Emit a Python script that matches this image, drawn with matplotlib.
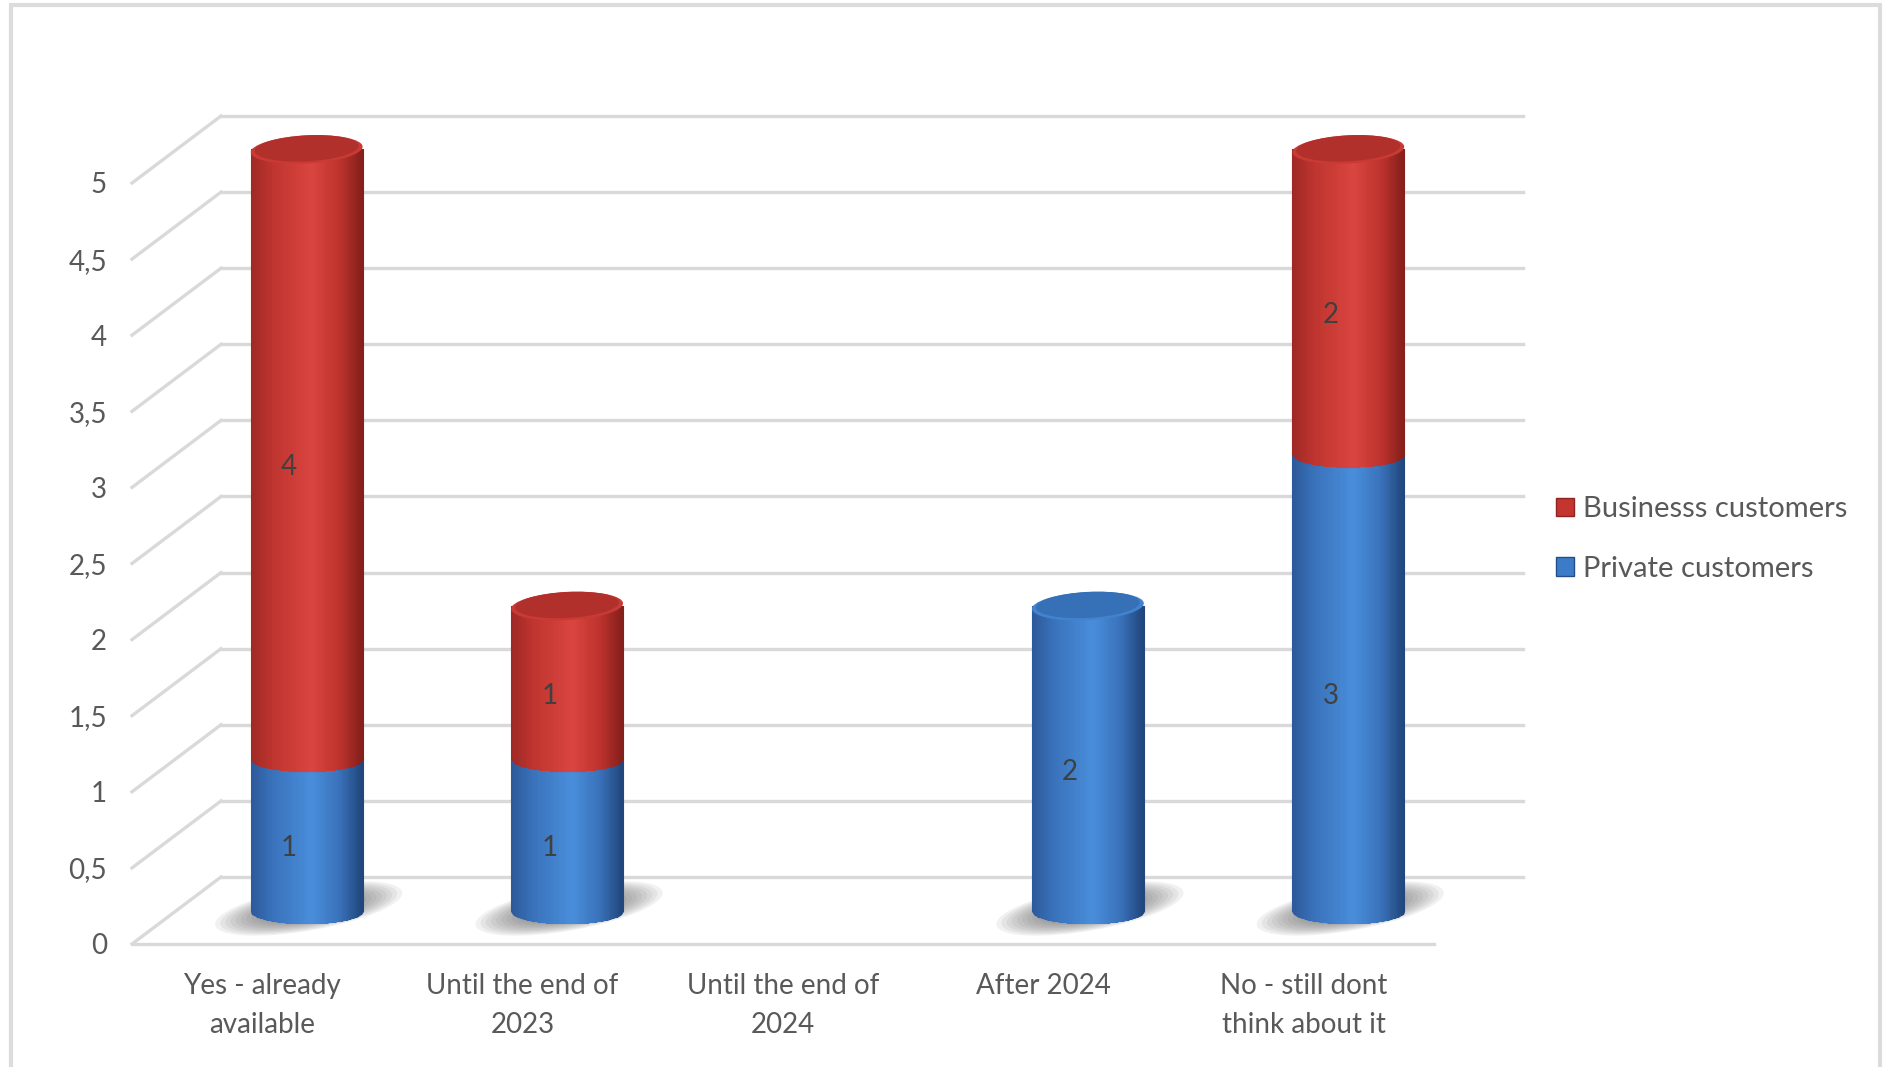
import numpy as np
import matplotlib
matplotlib.use('Agg')
import matplotlib.pyplot as plt
from matplotlib.patches import Ellipse, Patch, Rectangle
from matplotlib.collections import PolyCollection
from matplotlib.colors import LinearSegmentedColormap
from matplotlib.transforms import Affine2D, ScaledTranslation

categories = ['Yes - already\navailable', 'Until the end of\n2023', 'Until the end of\n2024',
              'After 2024', 'No - still dont\nthink about it']
private = [1, 1, 0, 2, 3]
business = [4, 1, 0, 0, 2]
series_names = ['Businesss customers', 'Private customers']
yticks = np.arange(0, 5.01, 0.5)
ytick_labels = [f'{v:g}'.replace('.', ',') for v in yticks]

plt.rcParams['font.family'] = ['Lato', 'DejaVu Sans']

W, H = 1885, 1067
fig = plt.figure(figsize=(W / 100, H / 100), dpi=100)
ax = fig.add_axes([132 / W, 123 / H, 1302 / W, 761 / H])
for s in ax.spines.values():
    s.set_visible(False)

# oblique depth offset in pixels (back wall) and helpers
DX, DY = 89, 67
back = ax.transData + Affine2D().translate(DX, DY)
mid = ax.transData + Affine2D().translate(DX / 2, DY / 2)
lab = ax.transData + Affine2D().translate(DX * 0.3, DY * 0.3)

grid_c = '#D9D9D9'
for v in yticks:
    ax.plot([-0.5, 4.5], [v, v], transform=back, color=grid_c, lw=2.4, clip_on=False, zorder=1)
    ax.plot([0, DX], [0, DY], transform=ScaledTranslation(-0.5, v, ax.transData),
            color=grid_c, lw=2.4, clip_on=False, zorder=1)
ax.plot([-0.5, 4.5], [0, 0], color=grid_c, lw=2.4, clip_on=False, zorder=1)

red_cmap = LinearSegmentedColormap.from_list('r', [(0, '#A02926'), (0.2, '#C0352F'), (0.55, '#DA4540'),
                                                   (0.8, '#BE332E'), (1, '#86201C')])
blue_cmap = LinearSegmentedColormap.from_list('b', [(0, '#2D5A9B'), (0.2, '#3A73BC'), (0.55, '#4A8EDB'),
                                                    (0.8, '#3A72BA'), (1, '#22477D')])
red_cap = ('#B1302C', '#C93A35')
blue_cap = ('#3670B6', '#4283CF')

w = 0.43
eh = 0.17


def cylinder(xc, y0, y1, cmap, z):
    a, b = w / 2, eh / 2
    n = 70
    edges = np.linspace(xc - a, xc + a, n + 1)
    polys = []
    for i in range(n):
        xl, xr = edges[i], edges[i + 1]
        bl = y0 - b * np.sqrt(max(0.0, 1 - ((xl - xc) / a) ** 2))
        br = y0 - b * np.sqrt(max(0.0, 1 - ((xr - xc) / a) ** 2))
        polys.append([(xl, bl), (xl, y1), (xr, y1), (xr, br)])
    cols = cmap(np.linspace(0, 1, n))
    pc = PolyCollection(polys, facecolors=cols, edgecolors=cols, linewidths=0.8,
                        transform=mid, clip_on=False, zorder=z)
    ax.add_collection(pc, autolim=False)


def cap(xc, y, colors):
    pw = w * 260.4
    for k, (c, s) in enumerate([(colors[1], 1.0), (colors[0], 0.93)]):
        e = Ellipse((0, 0), 1, 1, facecolor=c, edgecolor='none', clip_on=False, zorder=5 + k * 0.1)
        e.set_transform(Affine2D().scale(pw * s, 28 * s).translate(0, 1.2 * k).rotate_deg(3)
                        + ScaledTranslation(xc, y, mid))
        ax.add_patch(e)


def shadow(xc):
    for k in range(12):
        s = 1 - k * 0.055
        e = Ellipse((0, 0), 1, 1, facecolor='#555555', edgecolor='none', alpha=0.08,
                    clip_on=False, zorder=2)
        e.set_transform(Affine2D().scale(190 * s, 44 * s).rotate_deg(10).translate(2, 2)
                        + ScaledTranslation(xc, 0, mid))
        ax.add_patch(e)


x = np.arange(len(categories))
for i in x:
    total = private[i] + business[i]
    if total <= 0:
        continue
    shadow(i)
    if private[i] > 0:
        cylinder(i, 0, private[i], blue_cmap, 3)
    if business[i] > 0:
        cylinder(i, private[i], total, red_cmap, 4)
    cap(i, total, red_cap if business[i] > 0 else blue_cap)
    if private[i] > 0:
        ax.text(i, private[i] / 2, str(private[i]), transform=lab, ha='center', va='center',
                fontsize=20, color='#404040', zorder=10)
    if business[i] > 0:
        ax.text(i, private[i] + business[i] / 2, str(business[i]), transform=lab, ha='center',
                va='center', fontsize=20, color='#404040', zorder=10)

ax.set_xlim(-0.5, 4.5)
ax.set_ylim(0, 5)
ax.set_yticks(yticks, ytick_labels)
ax.set_xticks(x, categories)
ax.tick_params(axis='both', length=0, labelsize=20, labelcolor='#595959')
ax.tick_params(axis='y', pad=18)
ax.tick_params(axis='x', pad=21)
for t in ax.get_xticklabels():
    t.set_linespacing(1.6)

handles = [Patch(facecolor='#C4352F', edgecolor='#8E2420', lw=1),
           Patch(facecolor='#3C7BC8', edgecolor='#244E8A', lw=1)]
fig.legend(handles, series_names, loc='center left', bbox_to_anchor=(1530 / W, 1 - 539 / H),
           frameon=False, fontsize=21, labelcolor='#595959', handlelength=0.6, handleheight=0.6,
           handletextpad=0.3, labelspacing=1.15)

fig.patches.append(Rectangle((11 / W, -0.02), (1880 - 11) / W, 1.02 - 5 / H, transform=fig.transFigure,
                             fill=False, edgecolor='#DCDCDC', lw=3))

fig.savefig('out.png', dpi=100)
